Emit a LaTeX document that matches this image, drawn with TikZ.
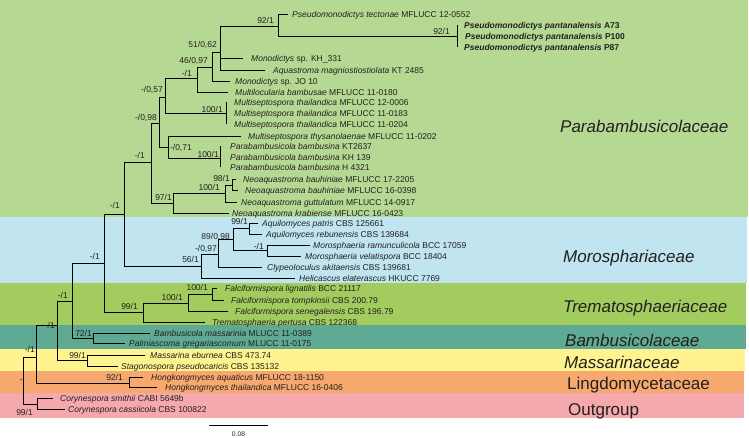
\documentclass[tikz,border=0pt]{standalone}
\usepackage{fontspec}
\setmainfont{Liberation Sans}
\definecolor{cPara}{HTML}{B5D993}
\definecolor{cMoro}{HTML}{C0E4F0}
\definecolor{cTrem}{HTML}{A3CC5F}
\definecolor{cBamb}{HTML}{5EAA92}
\definecolor{cMass}{HTML}{FEF38E}
\definecolor{cLing}{HTML}{F6A86F}
\definecolor{cOutg}{HTML}{F5A9AD}
\definecolor{txt}{HTML}{231F20}
\newcommand\leaffont{\fontsize{8.5}{10}\selectfont}
\newcommand\famfont{\fontsize{17}{20}\selectfont}
\tikzset{
  br/.style={line width=0.9pt, draw=black},
  lf/.style={anchor=base west, inner sep=0pt, font=\leaffont, text=txt},
  bs/.style={anchor=base east, inner sep=0pt, font=\leaffont, text=txt},
  fam/.style={anchor=base west, inner sep=0pt, font=\famfont, text=txt}
}
\begin{document}
\begin{tikzpicture}[x=1pt,y=-1pt]
\useasboundingbox (0,0) rectangle (749,437);
% bands
\fill[cPara] (0,0) rectangle (748,217);
\fill[cMoro] (0,217) rectangle (747,283);
\fill[cTrem] (0,283) rectangle (746,325);
\fill[cBamb] (0,325) rectangle (746,349);
\fill[cMass] (0,349) rectangle (745,371);
\fill[cLing] (0,371) rectangle (744,393);
\fill[cOutg] (0,393) rectangle (744,418);
% family labels
\node[fam] (fPara) at (560,132) {\itshape Parabambusicolaceae};
\node[fam] (fMoro) at (563,262.5) {\itshape Morosphariaceae};
\node[fam] (fTrem) at (563,312) {\itshape Trematosphaeriaceae};
\node[fam] (fBamb) at (565,346) {\itshape Bambusicolaceae};
\node[fam] (fMass) at (564,368) {\itshape Massarinaceae};
\node[fam] (fLing) at (567,389) {Lingdomycetaceae};
\node[fam] (fOutg) at (568,415) {Outgroup};
% internal nodes
\coordinate (root) at (23,380);
\coordinate (Ntect) at (278,26);
\coordinate (Npant) at (457,36);
\coordinate (N51) at (220,52);
\coordinate (N46) at (212,67);
\coordinate (N1a) at (197,78);
\coordinate (N57) at (165,97);
\coordinate (NMT) at (226,113);
\coordinate (N98) at (159,123);
\coordinate (N71) at (168,147);
\coordinate (NParab) at (220,158);
\coordinate (N1b) at (151,162);
\coordinate (N97) at (173,203);
\coordinate (NNeo) at (225,193);
\coordinate (N981) at (232,185);
\coordinate (N1c) at (124,214);
\coordinate (N56) at (201,266);
\coordinate (N097) at (218,254);
\coordinate (N89) at (233,239);
\coordinate (NAq) at (249,228);
\coordinate (NMor) at (267,250);
\coordinate (N1d) at (104,263);
\coordinate (NTrem) at (143,312);
\coordinate (NFo) at (188,303);
\coordinate (NFi) at (212,294);
\coordinate (N1e) at (72,301);
\coordinate (N72) at (93,338);
\coordinate (N1f) at (57,325);
\coordinate (NMass) at (87,360);
\coordinate (N1g) at (36,357);
\coordinate (NLing) at (129,383);
\coordinate (NCor) at (37,404);
% leaf ends
\coordinate (l1) at (288,14);
\coordinate (l2) at (457,25);
\coordinate (l3) at (457,36);
\coordinate (l4) at (457,47);
\coordinate (l5) at (243,58);
\coordinate (l6) at (265,70);
\coordinate (l7) at (230,81);
\coordinate (l8) at (228,92);
\coordinate (l9) at (226,102);
\coordinate (l10) at (226,113);
\coordinate (l11) at (226,124);
\coordinate (l12) at (241,136);
\coordinate (l13) at (220,146);
\coordinate (l14) at (220,157);
\coordinate (l15) at (220,167);
\coordinate (l16) at (236,179);
\coordinate (l17) at (238,190);
\coordinate (l18) at (237,202);
\coordinate (l19) at (229,213);
\coordinate (l20) at (258,223);
\coordinate (l21) at (262,234);
\coordinate (l22) at (310,245);
\coordinate (l23) at (301,256);
\coordinate (l24) at (262,267);
\coordinate (l25) at (295,278);
\coordinate (l26) at (217,288);
\coordinate (l27) at (224,300);
\coordinate (l28) at (228,311);
\coordinate (l29) at (205,322);
\coordinate (l30) at (150,333);
\coordinate (l31) at (125,343);
\coordinate (l32) at (145,355);
\coordinate (l33) at (118,366);
\coordinate (l34) at (143,377);
\coordinate (l35) at (157,387);
\coordinate (l36) at (53,398);
\coordinate (l37) at (65,409);
% branches
\draw[br] (root) |- (N1g);
\draw[br] (root) |- (NCor);
\draw[br] (N1g) |- (N1f);
\draw[br] (N1g) |- (NLing);
\draw[br] (N1f) |- (N1e);
\draw[br] (N1f) |- (NMass);
\draw[br] (N1e) |- (N1d);
\draw[br] (N1e) |- (N72);
\draw[br] (N1d) |- (N1c);
\draw[br] (N1d) |- (NTrem);
\draw[br] (N1c) |- (N1b);
\draw[br] (N1c) |- (N56);
\draw[br] (N1b) |- (N98);
\draw[br] (N1b) |- (N97);
\draw[br] (N98) |- (N57);
\draw[br] (N98) |- (N71);
\draw[br] (N57) |- (N1a);
\draw[br] (N57) |- (NMT);
\draw[br] (N1a) |- (N46);
\draw[br] (N1a) |- (l8);
\draw[br] (N46) |- (N51);
\draw[br] (N46) |- (l7);
\draw[br] (N51) |- (Ntect);
\draw[br] (N51) |- (l5);
\draw[br] (N51) |- (l6);
\draw[br] (Ntect) |- (l1);
\draw[br] (Ntect) |- (Npant);
\draw[br] (Npant) |- (l2);
\draw[br] (Npant) |- (l3);
\draw[br] (Npant) |- (l4);
\draw[br] (NMT) |- (l9);
\draw[br] (NMT) |- (l10);
\draw[br] (NMT) |- (l11);
\draw[br] (N71) |- (l12);
\draw[br] (N71) |- (NParab);
\draw[br] (NParab) |- (l13);
\draw[br] (NParab) |- (l14);
\draw[br] (NParab) |- (l15);
\draw[br] (N97) |- (NNeo);
\draw[br] (N97) |- (l19);
\draw[br] (NNeo) |- (N981);
\draw[br] (NNeo) |- (l18);
\draw[br] (N981) |- (l16);
\draw[br] (N981) |- (l17);
\draw[br] (N56) |- (N097);
\draw[br] (N56) |- (l25);
\draw[br] (N097) |- (N89);
\draw[br] (N097) |- (l24);
\draw[br] (N89) |- (NAq);
\draw[br] (N89) |- (NMor);
\draw[br] (NAq) |- (l20);
\draw[br] (NAq) |- (l21);
\draw[br] (NMor) |- (l22);
\draw[br] (NMor) |- (l23);
\draw[br] (NTrem) |- (NFo);
\draw[br] (NTrem) |- (l29);
\draw[br] (NFo) |- (NFi);
\draw[br] (NFo) |- (l28);
\draw[br] (NFi) |- (l26);
\draw[br] (NFi) |- (l27);
\draw[br] (N72) |- (l30);
\draw[br] (N72) |- (l31);
\draw[br] (NMass) |- (l32);
\draw[br] (NMass) |- (l33);
\draw[br] (NLing) |- (l34);
\draw[br] (NLing) |- (l35);
\draw[br] (NCor) |- (l36);
\draw[br] (NCor) |- (l37);
% leaf labels
\node[lf] (t1) at (292,17) {\textit{Pseudomonodictys tectonae} MFLUCC 12-0552};
\node[lf] (t2) at (464,28) {\bfseries\textit{Pseudomonodictys pantanalensis} A73};
\node[lf] (t3) at (465,39) {\bfseries\textit{Pseudomonodictys pantanalensis} P100};
\node[lf] (t4) at (464,50) {\bfseries\textit{Pseudomonodictys pantanalensis} P87};
\node[lf] (t5) at (251,61) {\textit{Monodictys} sp. KH\_331};
\node[lf] (t6) at (273,73) {\textit{Aquastroma magniostiostiolata} KT 2485};
\node[lf] (t7) at (235,84) {\textit{Monodictys} sp. JO 10};
\node[lf] (t8) at (235,95) {\textit{Multilocularia bambusae} MFLUCC 11-0180};
\node[lf] (t9) at (234,105) {\textit{Multiseptospora thailandica} MFLUCC 12-0006};
\node[lf] (t10) at (234,116) {\textit{Multiseptospora thailandica} MFLUCC 11-0183};
\node[lf] (t11) at (234,127) {\textit{Multiseptospora thailandica} MFLUCC 11-0204};
\node[lf] (t12) at (248,139) {\textit{Multiseptospora thysanolaenae} MFLUCC 11-0202};
\node[lf] (t13) at (230,149) {\textit{Parabambusicola bambusina} KT2637};
\node[lf] (t14) at (230,160) {\textit{Parabambusicola bambusina} KH 139};
\node[lf] (t15) at (230,170) {\textit{Parabambusicola bambusina} H 4321};
\node[lf] (t16) at (243,182) {\textit{Neoaquastroma bauhiniae} MFLUCC 17-2205};
\node[lf] (t17) at (245,193) {\textit{Neoaquastroma bauhiniae} MFLUCC 16-0398};
\node[lf] (t18) at (241,205) {\textit{Neoaquastroma guttulatum} MFLUCC 14-0917};
\node[lf] (t19) at (232,216) {\textit{Neoaquastroma krabiense} MFLUCC 16-0423};
\node[lf] (t20) at (262,226) {\textit{Aquilomyces patris} CBS 125661};
\node[lf] (t21) at (266,237) {\textit{Aquilomyces rebunensis} CBS 139684};
\node[lf] (t22) at (313,248) {\textit{Morosphaeria ramunculicola} BCC 17059};
\node[lf] (t23) at (305,259) {\textit{Morosphaeria velatispora} BCC 18404};
\node[lf] (t24) at (267,270) {\textit{Clypeoloculus akitaensis} CBS 139681};
\node[lf] (t25) at (299,281) {\textit{Helicascus elaterascus} HKUCC 7769};
\node[lf] (t26) at (225,291) {\textit{Falciformispora lignatilis} BCC 21117};
\node[lf] (t27) at (231,303) {\textit{Falciformispora tompkinsii} CBS 200.79};
\node[lf] (t28) at (235,314) {\textit{Falciformispora senegalensis} CBS 196.79};
\node[lf] (t29) at (212,325) {\textit{Trematosphaeria pertusa} CBS 122368};
\node[lf] (t30) at (154,336) {\textit{Bambusicola massarinia} MLUCC 11-0389};
\node[lf] (t31) at (129,346) {\textit{Palmiascoma gregariascomum} MLUCC 11-0175};
\node[lf] (t32) at (150,358) {\textit{Massarina eburnea} CBS 473.74};
\node[lf] (t33) at (121,369) {\textit{Stagonospora pseudocaricis} CBS 135132};
\node[lf] (t34) at (151,380) {\textit{Hongkongmyces aquaticus} MFLUCC 18-1150};
\node[lf] (t35) at (165,390) {\textit{Hongkongmyces thailandica} MFLUCC 16-0406};
\node[lf] (t36) at (60,401) {\textit{Corynespora smithii} CABI 5649b};
\node[lf] (t37) at (68,412) {\textit{Corynespora cassiicola} CBS 100822};
% support values
\node[bs] (s1) at (274,23) {92/1};
\node[bs] (s2) at (450,34) {92/1};
\node[bs] (s3) at (217,47) {51/0,62};
\node[bs] (s4) at (208,63) {46/0,97};
\node[bs] (s5) at (192,76) {-/1};
\node[bs] (s6) at (163,92) {-/0,57};
\node[bs] (s7) at (223,112) {100/1};
\node[bs] (s8) at (157,120) {-/0,98};
\node[bs] (s9) at (192,150) {-/0,71};
\node[bs] (s10) at (219,157) {100/1};
\node[bs] (s11) at (145,158) {-/1};
\node[bs] (s12) at (230,181) {98/1};
\node[bs] (s13) at (220,190) {100/1};
\node[bs] (s14) at (172,200) {97/1};
\node[bs] (s15) at (120,208) {-/1};
\node[bs] (s16) at (100,259) {-/1};
\node[bs] (s17) at (199,262) {56/1};
\node[bs] (s18) at (217,251) {-/0,97};
\node[bs] (s19) at (230,239) {89/0,98};
\node[bs] (s20) at (248,224) {99/1};
\node[bs] (s21) at (264,249) {-/1};
\node[bs] (s22) at (208,290) {100/1};
\node[bs] (s23) at (183,300) {100/1};
\node[bs] (s24) at (138,309) {99/1};
\node[bs] (s25) at (68,298) {-/1};
\node[bs] (s26) at (92,336) {72/1};
\node[bs] (s27) at (55,328) {-/1};
\node[bs] (s28) at (86,358) {99/1};
\node[bs] (s29) at (35,352) {-/1};
\node[bs] (s30) at (123,380) {92/1};
\node[bs] (s31) at (23,382.5) {-};
\node[bs] (s32) at (33,415) {99/1};
% scale bar
\coordinate (sb1) at (209,425);
\coordinate (sb2) at (268,425);
\draw[br] (sb1) -- (sb2);
\node[anchor=base, inner sep=0pt, font=\fontsize{6.7}{8}\selectfont, text=txt] (sbl) at (238.5,436) {0.08};
\end{tikzpicture}
\end{document}
